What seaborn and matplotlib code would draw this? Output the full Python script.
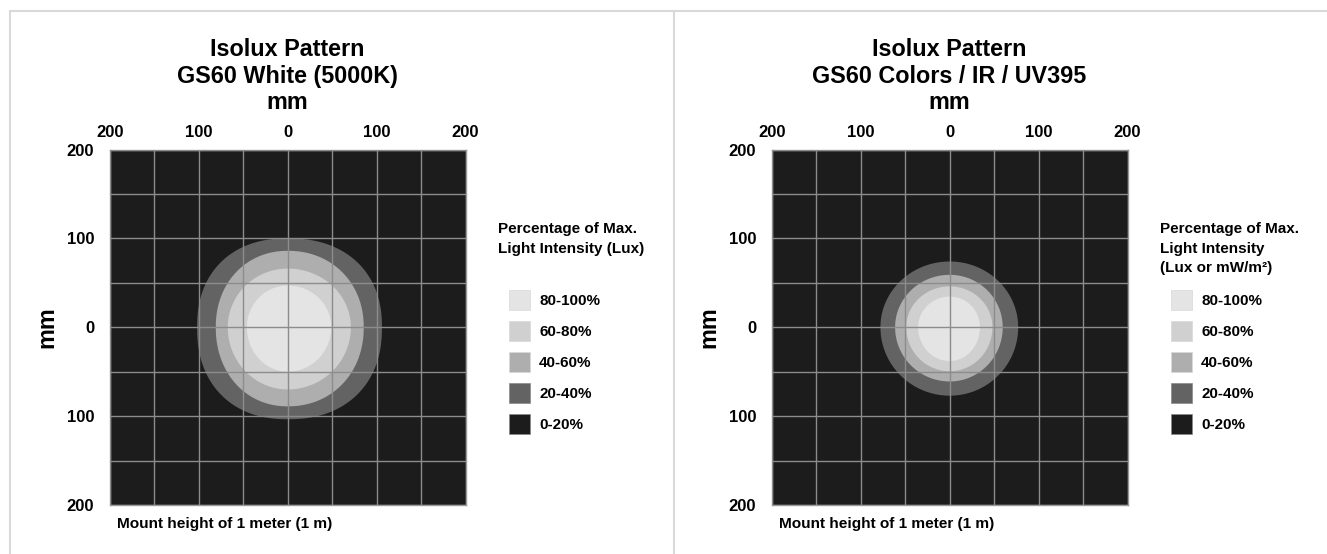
import numpy as np
import matplotlib
matplotlib.use('Agg')
import matplotlib.pyplot as plt
from matplotlib.patches import Rectangle
from matplotlib.lines import Line2D
import seaborn as sns

# === Data (mm) ===
band_labels = ['80-100%', '60-80%', '40-60%', '20-40%', '0-20%']
band_colors = ['#e4e4e4', '#d0d0d0', '#aeaeae', '#636363', '#1c1c1c']

# outer edge of each band, from 20-40% inward to 80-100%
white_left = [102, 81, 67.5, 46]
white_right = [106, 85.5, 71, 49]
white_top = [100, 86, 66, 47]
white_bottom = [103.5, 89, 70, 50]

color_left = [78, 61.5, 49, 35.6]
color_right = [77, 59.6, 48, 34]
color_top = [74, 59, 46, 34.5]
color_bottom = [77, 61, 49.5, 38]

tick_values = [-200, -100, 0, 100, 200]
tick_labels = ['200', '100', '0', '100', '200']

# === Style ===
sns.set_theme(style='white')
plt.rcParams['font.family'] = ['Liberation Sans', 'DejaVu Sans']
plt.rcParams['font.weight'] = 'bold'
plt.rcParams['text.color'] = 'black'

W, H = 1327, 554
fig = plt.figure(figsize=(W / 100, H / 100), dpi=100)
fig.patch.set_facecolor('white')


def fx(x):
    return x / W


def fy(y):
    return 1 - y / H


def blob(left, right, top, bottom, p, n=500):
    t = np.linspace(0, 2 * np.pi, n)
    c, s = np.cos(t), np.sin(t)
    x = np.sign(c) * np.abs(c) ** (2 / p) * np.where(c >= 0, right, left)
    y = np.sign(s) * np.abs(s) ** (2 / p) * np.where(s >= 0, top, bottom)
    return x, y


def draw_panel(x0, title2, lefts, rights, tops, bottoms, exps, legend_title):
    ax = fig.add_axes([fx(x0), fy(505), 355.5 / W, 355.5 / H])
    ax.set_facecolor(band_colors[-1])
    # bands, outermost first (20-40% -> 80-100%)
    fills = band_colors[3::-1]
    for i in range(4):
        bx, by = blob(lefts[i], rights[i], tops[i], bottoms[i], exps[i])
        ax.fill(bx, by, color=fills[i], lw=0, zorder=1)

    ax.set_xlim(-200, 200)
    ax.set_ylim(-200, 200)
    ax.set_xticks(np.arange(-200, 201, 50))
    ax.set_yticks(np.arange(-200, 201, 50))
    lab = {v: l for v, l in zip(tick_values, tick_labels)}
    ax.set_xticklabels([lab.get(v, '') for v in np.arange(-200, 201, 50)])
    ax.set_yticklabels([lab.get(v, '') for v in np.arange(-200, 201, 50)])
    ax.xaxis.tick_top()
    ax.tick_params(axis='x', length=0, pad=7, labelsize=12, colors='black')
    ax.tick_params(axis='y', length=0, pad=11.5, labelsize=12, colors='black')
    for t in ax.get_xticklabels() + ax.get_yticklabels():
        t.set_fontweight('bold')
    ax.set_axisbelow(False)
    ax.grid(True, color='#8c8c8c', lw=1.0)
    for sp in ax.spines.values():
        sp.set_color('#9a9a9a')
        sp.set_linewidth(1.0)

    cx = x0 + 177.5
    fig.text(fx(cx), fy(56), 'Isolux Pattern', ha='center', va='baseline',
             fontsize=16.8, fontweight='bold')
    fig.text(fx(cx), fy(83), title2, ha='center', va='baseline',
             fontsize=16.8, fontweight='bold')
    fig.text(fx(cx), fy(109), 'mm', ha='center', va='baseline',
             fontsize=16.8, fontweight='bold')
    fig.text(fx(x0 - 63), fy(327), 'mm', ha='center', va='center',
             rotation=90, fontsize=16.8, fontweight='bold')
    fig.text(fx(x0 + 7), fy(528), 'Mount height of 1 meter (1 m)',
             ha='left', va='baseline', fontsize=11.1, fontweight='bold')

    # legend
    lx = x0 + 388
    base = 233
    for line in legend_title:
        fig.text(fx(lx), fy(base), line, ha='left', va='baseline',
                 fontsize=11, fontweight='bold')
        base += 19.5
    for k, (lbl, col) in enumerate(zip(band_labels, band_colors)):
        yc = 299.5 + k * 31
        fig.patches.append(Rectangle((fx(lx + 11), fy(yc + 10)), 21 / W, 20 / H,
                                     transform=fig.transFigure, facecolor=col,
                                     edgecolor='#d8d8d8' if k < 3 else '#8a8a8a',
                                     lw=0.5))
        fig.text(fx(lx + 41), fy(yc + 5.5), lbl, ha='left', va='baseline',
                 fontsize=10.9, fontweight='bold')
    return ax


draw_panel(110, 'GS60 White (5000K)', white_left, white_right, white_top,
           white_bottom, [2.25, 2.1, 2.0, 2.0],
           ['Percentage of Max.', 'Light Intensity (Lux)'])
draw_panel(772, 'GS60 Colors / IR / UV395', color_left, color_right, color_top,
           color_bottom, [2.0, 2.0, 2.0, 2.0],
           ['Percentage of Max.', 'Light Intensity', '(Lux or mW/m\u00b2)'])

# frame lines around the panels
frame = '#d9d9d9'
fig.lines.append(Line2D([fx(10), 1], [fy(11), fy(11)], transform=fig.transFigure,
                        color=frame, lw=1.5))
fig.lines.append(Line2D([fx(10), fx(10)], [fy(11), 0], transform=fig.transFigure,
                        color=frame, lw=1.5))
fig.lines.append(Line2D([fx(674), fx(674)], [fy(11), 0], transform=fig.transFigure,
                        color=frame, lw=1.5))

fig.savefig('out.png', dpi=100, facecolor='white')
